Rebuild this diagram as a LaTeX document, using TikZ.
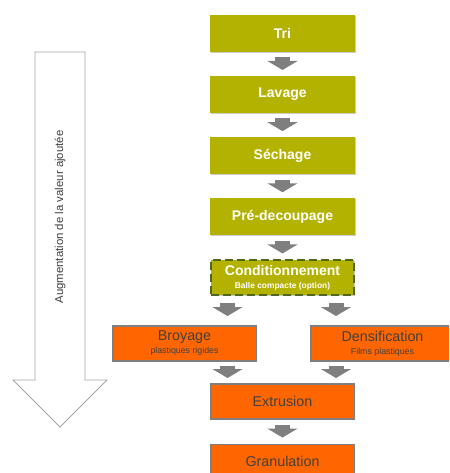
\documentclass[tikz,border=0pt]{standalone}
\usepackage{fontspec}
\setmainfont{Liberation Sans}
\usetikzlibrary{positioning,arrows.meta,shadows}
\definecolor{oliveFill}{RGB}{180,178,0}
\definecolor{orangeFill}{RGB}{255,102,0}
\definecolor{boxgray}{RGB}{127,127,127}
\definecolor{textgray}{RGB}{64,64,64}
\definecolor{condgreen}{RGB}{80,104,30}
\tikzset{
  olivebox/.style={fill=oliveFill, text=white, font=\fontsize{14}{16}\selectfont\bfseries,
    minimum width=145pt, minimum height=37pt, inner sep=0pt, align=center,
    drop shadow={shadow xshift=1pt, shadow yshift=-1pt, fill=black!20, opacity=1}},
  orangebox/.style={fill=orangeFill, draw=boxgray, line width=1.5pt, text=textgray,
    font=\fontsize{14.3}{16}\selectfont, minimum width=143.5pt, minimum height=35pt,
    inner sep=0pt, align=center},
  condbox/.style={olivebox, draw=condgreen, line width=1.6pt, dash pattern=on 8pt off 4pt,
    minimum width=143.5pt, minimum height=35pt},
  flow/.style={line width=15pt, draw=boxgray, -{Triangle[width=30pt,length=9pt]},
    shorten <=5pt, shorten >=6pt},
  bigarrow/.style={draw=black!35, fill=white, line width=0.8pt}
}
\begin{document}
\begin{tikzpicture}[x=1pt,y=-1pt]
    \clip (0,0) rectangle (449,473);
    \draw [bigarrow] (35,52) -- (85,52) -- (85,380) -- (107,380) -- (60,427) -- (13,380) -- (35,380) -- cycle;
    \node [rotate=90, text=textgray, font=\fontsize{11.4}{13}\selectfont] (gain) at (60,217) {Augmentation de la valeur ajoutée};
    \node [olivebox] (tri) at (282.5,33.5) {Tri};
    \node [olivebox, below=23.75pt of tri] (lavage) {Lavage};
    \node [olivebox, below=23.75pt of lavage] (sechage) {Séchage};
    \node [olivebox, below=23.75pt of sechage] (predecoupage) {Pré-decoupage};
    \node [condbox, below=23.75pt of predecoupage] (cond) {Conditionnement\\[-3pt]{\fontsize{8.4}{10}\selectfont Balle compacte (option)}};
    \node [orangebox, below=29pt of cond, xshift=-98pt] (broyage) {Broyage\\[-3pt]{\fontsize{8.8}{10}\selectfont plastiques rigides}};
    \node [orangebox, below=29pt of cond, xshift=100pt] (densification) {Densification\\[-3pt]{\fontsize{8.8}{10}\selectfont Films plastiques}};
    \node [orangebox, below=87pt of cond] (extrusion) {Extrusion};
    \node [orangebox, below=24pt of extrusion] (granulation) {Granulation};
    \foreach \a/\b in {tri/lavage, lavage/sechage, sechage/predecoupage, predecoupage/cond}
        \draw [flow] (\a) -- (\b);
    \draw [flow, shorten <=7pt, shorten >=9pt] ([xshift=-55pt]cond.south) -- ([xshift=-55pt]cond.south |- broyage.north);
    \draw [flow, shorten <=7pt, shorten >=9pt] ([xshift=53.5pt]cond.south) -- ([xshift=53.5pt]cond.south |- densification.north);
    \draw [flow, shorten <=4pt, shorten >=5pt] ([xshift=-55pt]extrusion.north |- broyage.south) -- ([xshift=-55pt]extrusion.north);
    \draw [flow, shorten <=4pt, shorten >=5pt] ([xshift=53.5pt]extrusion.north |- densification.south) -- ([xshift=53.5pt]extrusion.north);
    \draw [flow] (extrusion) -- (granulation);
\end{tikzpicture}
\end{document}
